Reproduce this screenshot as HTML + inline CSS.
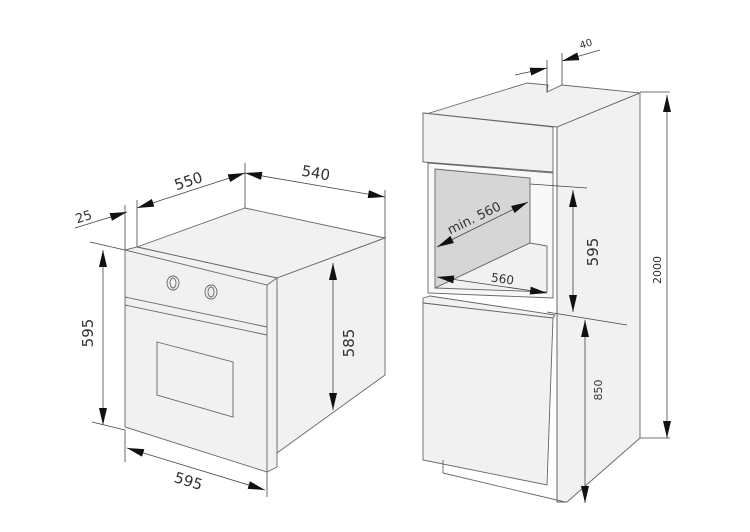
<!DOCTYPE html>
<html><head><style>body{margin:0;background:#fff}svg{display:block}text{font-family:"DejaVu Sans","Liberation Sans",sans-serif;fill:#333}</style></head><body>
<svg width="750" height="532" viewBox="0 0 750 532" xmlns="http://www.w3.org/2000/svg">
<defs>
<marker id="b" viewBox="0 0 17 8" refX="17" refY="4" markerWidth="17" markerHeight="8" orient="auto-start-reverse" markerUnits="userSpaceOnUse"><path d="M0,0L17,4L0,8z" fill="#111"/></marker></defs>
<g stroke="#666" stroke-width="0.9" fill="#f1f1f1">
<!-- oven -->
<polygon points="137,247 245,208 385,238 277,278"/>
<polygon points="277,278 385,238 385,375 277,453"/>
<polygon points="125,250 137,247 277,278 277,467 267,472 125,427"/>
<polyline points="267,472 267,285 125,250" fill="none"/>
<line x1="267" y1="285" x2="277" y2="278"/>
<polyline points="125,297 267,327" fill="none"/>
<polyline points="125,305 267,335" fill="none"/>
<polygon points="157,342 233,362 233,417 157,395"/>
<ellipse cx="173" cy="283" rx="6" ry="7"/><ellipse cx="173" cy="283" rx="3" ry="5"/>
<ellipse cx="211" cy="292" rx="6" ry="7"/><ellipse cx="211" cy="292" rx="3" ry="5"/>
<!-- cabinet -->
<polygon points="423,115 527,83 548,85 547,92 562,85 640,93 557,127 423,113" />
<polygon points="557,127 640,93 640,438 567,502 557,502"/>
<line x1="557" y1="127" x2="557" y2="502"/>
<polygon points="423,113 553,127 553,172 423,162"/>
<polygon points="428,163 553,173 553,298 428,293" fill="#f8f8f8"/>
<polygon points="435,169 530,178 530,243 435,288" fill="#d6d6d6"/>
<polygon points="435,288 530,243 547,246 547,292"/>
<polygon points="423,298 430,296 555,315 553,318 423,303"/>
<polygon points="423,303 553,318 547,485 423,460"/>
<polyline points="443,460 443,473 565,502" fill="none"/>
</g>
<g stroke="#444" stroke-width="0.8" fill="none">
<line x1="90" y1="242" x2="125" y2="250"/><line x1="92" y1="422" x2="125" y2="430"/>
<line x1="125" y1="205" x2="125" y2="250"/><line x1="137" y1="200" x2="137" y2="247"/>
<line x1="245" y1="163" x2="245" y2="208"/><line x1="385" y1="190" x2="385" y2="238"/>
<line x1="125" y1="430" x2="125" y2="462"/><line x1="267" y1="472" x2="267" y2="497"/>
<line x1="75" y1="228" x2="127" y2="212" marker-end="url(#b)"/>
<line x1="137" y1="208" x2="245" y2="173" marker-start="url(#b)" marker-end="url(#b)"/>
<line x1="245" y1="173" x2="385" y2="197" marker-start="url(#b)" marker-end="url(#b)"/>
<line x1="103" y1="250" x2="103" y2="425" marker-start="url(#b)" marker-end="url(#b)"/>
<line x1="333" y1="263" x2="333" y2="410" marker-start="url(#b)" marker-end="url(#b)"/>
<line x1="127" y1="448" x2="265" y2="490" marker-start="url(#b)" marker-end="url(#b)"/>
<line x1="547" y1="60" x2="547" y2="92"/><line x1="562" y1="53" x2="562" y2="85"/>
<line x1="515" y1="75" x2="547" y2="68" marker-end="url(#b)"/>
<line x1="600" y1="50" x2="562" y2="61" marker-end="url(#b)"/>
<line x1="530" y1="184" x2="587" y2="188"/><line x1="547" y1="312" x2="627" y2="325"/>
<line x1="640" y1="92" x2="670" y2="92"/><line x1="640" y1="438" x2="670" y2="438"/>
<line x1="573" y1="190" x2="573" y2="312" marker-start="url(#b)" marker-end="url(#b)"/>
<line x1="585" y1="320" x2="585" y2="503" marker-start="url(#b)" marker-end="url(#b)"/>
<line x1="667" y1="95" x2="667" y2="438" marker-start="url(#b)" marker-end="url(#b)"/>
<line x1="437" y1="247" x2="528" y2="202" marker-start="url(#b)" marker-end="url(#b)"/>
<line x1="437" y1="277" x2="547" y2="293" marker-start="url(#b)" marker-end="url(#b)"/>
</g>
<text x="85" y="221" font-size="13" transform="rotate(-18 85 221)" text-anchor="middle">25</text>
<text x="190" y="186" font-size="15" transform="rotate(-18 190 186)" text-anchor="middle">550</text>
<text x="315" y="178" font-size="15" transform="rotate(10 315 178)" text-anchor="middle">540</text>
<text x="93" y="333" font-size="15" transform="rotate(-90 93 333)" text-anchor="middle">595</text>
<text x="354" y="343" font-size="15" transform="rotate(-90 354 343)" text-anchor="middle">585</text>
<text x="187" y="486" font-size="15" transform="rotate(17 187 486)" text-anchor="middle">595</text>
<text x="587" y="47" font-size="10" transform="rotate(-18 587 47)" text-anchor="middle">40</text>
<text x="476" y="222" font-size="13" transform="rotate(-26 476 222)" text-anchor="middle">min. 560</text>
<text x="502" y="283" font-size="12" transform="rotate(8 502 283)" text-anchor="middle">560</text>
<text x="598" y="252" font-size="15" transform="rotate(-90 598 252)" text-anchor="middle">595</text>
<text x="602" y="390" font-size="11" transform="rotate(-90 602 390)" text-anchor="middle">850</text>
<text x="661" y="270" font-size="11" transform="rotate(-90 661 270)" text-anchor="middle">2000</text>
</svg>
</body></html>
